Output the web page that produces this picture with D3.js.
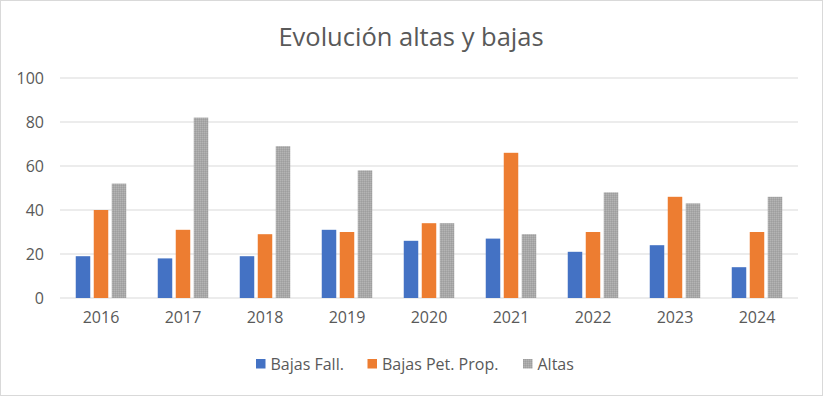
<!DOCTYPE html>
<html><head><meta charset="utf-8">
<script src="https://cdn.jsdelivr.net/npm/d3@7"></script>
<style>body{margin:0;background:#fff}svg{display:block}</style>
</head><body>
<script>
const years = ["2016","2017","2018","2019","2020","2021","2022","2023","2024"];
const seriesNames = ["Bajas Fall.","Bajas Pet. Prop.","Altas"];
const bajasFall = [19,18,19,31,26,27,21,24,14];
const bajasPet = [40,31,29,30,34,66,30,46,30];
const altas = [52,82,69,58,34,29,48,43,46];
const yTicks = [0,20,40,60,80,100];
const colors = ["#4472C4","#ED7D31","url(#dots)"];

const W=823,H=396;
const svg=d3.select("body").append("svg").attr("width",W).attr("height",H);
const defs=svg.append("defs");
const pat=defs.append("pattern").attr("id","dots").attr("width",2).attr("height",2).attr("patternUnits","userSpaceOnUse");
pat.append("rect").attr("width",2).attr("height",2).attr("fill","#A8A8A8");
pat.append("rect").attr("width",1).attr("height",1).attr("fill","#B4B4B4");
pat.append("rect").attr("x",1).attr("y",1).attr("width",1).attr("height",1).attr("fill","#9E9E9E");

svg.append("rect").attr("x",0.5).attr("y",0.5).attr("width",W-1).attr("height",H-1).attr("fill","#fff").attr("stroke","#D9D9D9");

const font="'Open Sans', 'Noto Sans', sans-serif";
svg.append("text").attr("x",411).attr("y",46).attr("text-anchor","middle").attr("font-family",font).attr("font-size",25.5).attr("fill","#595959").text("Evolución altas y bajas");

const x=d3.scaleBand().domain(years).range([60,798]);
const y=d3.scaleLinear().domain([0,100]).range([298,78]);
const data=[bajasFall,bajasPet,altas];
const bw=14.5, gap=3.5;

const g=svg.append("g");
g.selectAll("line.grid").data(yTicks).join("line").attr("class","grid")
 .attr("x1",60).attr("x2",798).attr("y1",d=>y(d)).attr("y2",d=>y(d))
 .attr("stroke","#D9D9D9").attr("stroke-width",1.2);

const yAxis=d3.axisLeft(y).tickValues(yTicks).tickSize(0).tickPadding(0);
const ya=svg.append("g").attr("transform","translate(44,0)").call(yAxis);
ya.select(".domain").remove();
ya.selectAll("text").attr("font-family",font).attr("font-size",16).attr("fill","#595959");

const xAxis=d3.axisBottom(x).tickSize(0).tickPadding(0);
const xa=svg.append("g").attr("transform","translate(0,317)").call(xAxis);
xa.select(".domain").remove();
xa.selectAll("text").attr("font-family",font).attr("font-size",16).attr("fill","#595959").attr("dy","0.35em");

data.forEach((vals,si)=>{
  g.selectAll("rect.s"+si).data(vals).join("rect").attr("class","s"+si)
   .attr("x",(d,i)=>x(years[i])+x.bandwidth()/2+(si-1)*(bw+gap)-bw/2)
   .attr("width",bw)
   .attr("y",d=>y(d)).attr("height",d=>y(0)-y(d))
   .attr("fill",colors[si]);
});

const legX=[256,367.5,523];
const lg=svg.append("g");
seriesNames.forEach((n,i)=>{
  lg.append("rect").attr("x",legX[i]).attr("y",359).attr("width",9.5).attr("height",9.5).attr("fill",colors[i]);
  lg.append("text").attr("x",legX[i]+14.5).attr("y",370).attr("font-family",font).attr("font-size",16).attr("fill","#595959").text(n);
});
</script>
</body></html>
